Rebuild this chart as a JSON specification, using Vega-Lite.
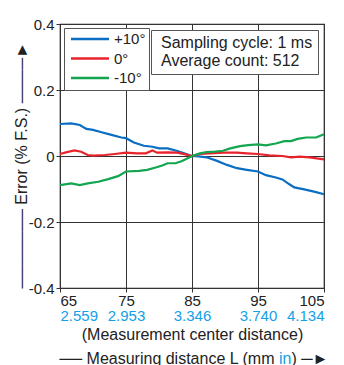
{
  "$schema": "https://vega.github.io/schema/vega-lite/v6.json",
  "width": 264,
  "height": 264,
  "autosize": {"type": "none"},
  "padding": {"left": 60, "top": 24, "right": 20, "bottom": 77},
  "background": "white",
  "config": {
    "font": "Liberation Sans",
    "view": {"stroke": "#1a1a1a", "strokeWidth": 1.2},
    "axis": {
      "labelFont": "Liberation Sans",
      "titleFont": "Liberation Sans",
      "labelFontSize": 15,
      "titleFontSize": 16,
      "titleFontWeight": "normal",
      "labelColor": "#222",
      "titleColor": "#222",
      "gridColor": "#333",
      "gridOpacity": 1,
      "gridWidth": 1,
      "tickColor": "#333",
      "domain": false
    },
    "legend": {
      "labelFont": "Liberation Sans",
      "labelColor": "#222"
    }
  },
  "datasets": {
    "curves": [
      {"d": 65, "e": 0.097, "s": "+10°"}, {"d": 66.7, "e": 0.099, "s": "+10°"}, {"d": 68, "e": 0.094, "s": "+10°"}, {"d": 69, "e": 0.082, "s": "+10°"}, {"d": 70, "e": 0.079, "s": "+10°"}, {"d": 71.3, "e": 0.072, "s": "+10°"}, {"d": 72.8, "e": 0.064, "s": "+10°"}, {"d": 74.3, "e": 0.056, "s": "+10°"}, {"d": 75, "e": 0.054, "s": "+10°"}, {"d": 76.2, "e": 0.041, "s": "+10°"}, {"d": 77.7, "e": 0.031, "s": "+10°"}, {"d": 79, "e": 0.028, "s": "+10°"}, {"d": 80, "e": 0.023, "s": "+10°"}, {"d": 81.3, "e": 0.023, "s": "+10°"}, {"d": 82.8, "e": 0.015, "s": "+10°"}, {"d": 83.8, "e": 0.008, "s": "+10°"}, {"d": 85, "e": 0.0, "s": "+10°"}, {"d": 86, "e": -0.001, "s": "+10°"}, {"d": 87.2, "e": -0.004, "s": "+10°"}, {"d": 88.7, "e": -0.014, "s": "+10°"}, {"d": 90.3, "e": -0.027, "s": "+10°"}, {"d": 91.8, "e": -0.037, "s": "+10°"}, {"d": 93.3, "e": -0.042, "s": "+10°"}, {"d": 95, "e": -0.047, "s": "+10°"}, {"d": 96.2, "e": -0.058, "s": "+10°"}, {"d": 97.7, "e": -0.065, "s": "+10°"}, {"d": 98.7, "e": -0.071, "s": "+10°"}, {"d": 99.7, "e": -0.085, "s": "+10°"}, {"d": 100.5, "e": -0.095, "s": "+10°"}, {"d": 102, "e": -0.101, "s": "+10°"}, {"d": 103.5, "e": -0.108, "s": "+10°"}, {"d": 105, "e": -0.116, "s": "+10°"},
      {"d": 65, "e": 0.006, "s": "0°"}, {"d": 65.9, "e": 0.011, "s": "0°"}, {"d": 67.2, "e": 0.017, "s": "0°"}, {"d": 68.2, "e": 0.013, "s": "0°"}, {"d": 69.2, "e": 0.003, "s": "0°"}, {"d": 70, "e": 0.001, "s": "0°"}, {"d": 71.8, "e": 0.003, "s": "0°"}, {"d": 73.3, "e": 0.006, "s": "0°"}, {"d": 75, "e": 0.01, "s": "0°"}, {"d": 76.7, "e": 0.008, "s": "0°"}, {"d": 78, "e": 0.008, "s": "0°"}, {"d": 79, "e": 0.017, "s": "0°"}, {"d": 79.7, "e": 0.01, "s": "0°"}, {"d": 81.3, "e": 0.011, "s": "0°"}, {"d": 82.8, "e": 0.01, "s": "0°"}, {"d": 84, "e": 0.005, "s": "0°"}, {"d": 85, "e": 0.0, "s": "0°"}, {"d": 86.2, "e": 0.006, "s": "0°"}, {"d": 87.7, "e": 0.008, "s": "0°"}, {"d": 89.7, "e": 0.01, "s": "0°"}, {"d": 91.8, "e": 0.01, "s": "0°"}, {"d": 93.3, "e": 0.008, "s": "0°"}, {"d": 95, "e": 0.006, "s": "0°"}, {"d": 96.7, "e": 0.002, "s": "0°"}, {"d": 98.7, "e": 0.0, "s": "0°"}, {"d": 100, "e": -0.004, "s": "0°"}, {"d": 101.3, "e": -0.002, "s": "0°"}, {"d": 102.8, "e": -0.004, "s": "0°"}, {"d": 105, "e": -0.01, "s": "0°"},
      {"d": 65, "e": -0.088, "s": "-10°"}, {"d": 66.7, "e": -0.083, "s": "-10°"}, {"d": 68, "e": -0.088, "s": "-10°"}, {"d": 69.2, "e": -0.083, "s": "-10°"}, {"d": 70.8, "e": -0.078, "s": "-10°"}, {"d": 72.3, "e": -0.07, "s": "-10°"}, {"d": 73.8, "e": -0.061, "s": "-10°"}, {"d": 75, "e": -0.047, "s": "-10°"}, {"d": 77, "e": -0.045, "s": "-10°"}, {"d": 78.2, "e": -0.042, "s": "-10°"}, {"d": 79.5, "e": -0.035, "s": "-10°"}, {"d": 80.5, "e": -0.029, "s": "-10°"}, {"d": 81.3, "e": -0.022, "s": "-10°"}, {"d": 82.5, "e": -0.022, "s": "-10°"}, {"d": 83.5, "e": -0.015, "s": "-10°"}, {"d": 84.8, "e": -0.002, "s": "-10°"}, {"d": 85, "e": 0.0, "s": "-10°"}, {"d": 86.2, "e": 0.008, "s": "-10°"}, {"d": 87.2, "e": 0.012, "s": "-10°"}, {"d": 88.5, "e": 0.013, "s": "-10°"}, {"d": 89.7, "e": 0.016, "s": "-10°"}, {"d": 90.8, "e": 0.023, "s": "-10°"}, {"d": 92.3, "e": 0.03, "s": "-10°"}, {"d": 93.5, "e": 0.033, "s": "-10°"}, {"d": 95, "e": 0.035, "s": "-10°"}, {"d": 96.2, "e": 0.032, "s": "-10°"}, {"d": 97.7, "e": 0.038, "s": "-10°"}, {"d": 99, "e": 0.045, "s": "-10°"}, {"d": 100, "e": 0.045, "s": "-10°"}, {"d": 101, "e": 0.052, "s": "-10°"}, {"d": 102.3, "e": 0.056, "s": "-10°"}, {"d": 103.8, "e": 0.056, "s": "-10°"}, {"d": 105, "e": 0.066, "s": "-10°"}
    ],
    "notes": [
      {"note": "Sampling cycle: 1 ms"},
      {"note": "Average count: 512"}
    ],
    "inch": [
      {"d": 65}, {"d": 75}, {"d": 85}, {"d": 95}, {"d": 105}
    ]
  },
  "layer": [
    {
      "data": {"name": "curves"},
      "mark": {"type": "line", "strokeWidth": 2.2},
      "encoding": {
        "x": {
          "field": "d", "type": "quantitative",
          "scale": {"domain": [65, 105], "nice": false, "zero": false},
          "axis": {
            "values": [65, 75, 85, 95, 105],
            "title": null,
            "grid": true,
            "ticks": true,
            "tickSize": 4,
            "labelPadding": 1.5
          }
        },
        "y": {
          "field": "e", "type": "quantitative",
          "scale": {"domain": [-0.4, 0.4], "nice": false, "zero": false},
          "axis": {
            "values": [-0.4, -0.2, 0, 0.2, 0.4],
            "labelExpr": "datum.value == 0 ? '0' : (datum.value < 0 ? '-' + format(-datum.value, '.1f') : format(datum.value, '.1f'))",
            "grid": true,
            "ticks": true,
            "tickSize": 4,
            "labelPadding": 2,
            "title": "─────── Error (% F.S.) ────►",
            "titleAnchor": "start",
            "titlePadding": -1
          }
        },
        "color": {
          "field": "s", "type": "nominal",
          "scale": {"domain": ["+10°", "0°", "-10°"], "range": ["#0a6ec2", "#e8232b", "#13a54f"]},
          "legend": {
            "title": null,
            "orient": "top-left",
            "offset": 4,
            "padding": 3.5,
            "rowPadding": 3.5,
            "symbolType": "M-0.667,0H5.667",
            "symbolSize": 144,
            "symbolStrokeWidth": 2.5,
            "labelOffset": 31.5,
            "labelFontSize": 15,
            "strokeColor": "#555",
            "fillColor": "white"
          }
        }
      }
    },
    {
      "data": {"name": "notes"},
      "mark": {"type": "point", "opacity": 0},
      "encoding": {
        "shape": {
          "field": "note", "type": "nominal",
          "sort": ["Sampling cycle: 1 ms", "Average count: 512"],
          "legend": {
            "title": null,
            "orient": "top-right",
            "offset": 6,
            "padding": 5,
            "rowPadding": 2,
            "symbolSize": 0.01,
            "symbolOpacity": 0,
            "symbolStrokeWidth": 0.01,
            "labelOffset": -11,
            "labelFontSize": 16,
            "strokeColor": "#555",
            "fillColor": "white"
          }
        }
      }
    },
    {
      "data": {"name": "inch"},
      "mark": {"type": "point", "opacity": 0},
      "encoding": {
        "x": {
          "field": "d", "type": "quantitative",
          "scale": {"domain": [65, 105], "nice": false, "zero": false},
          "axis": {
            "orient": "bottom",
            "values": [65, 75, 85, 95, 105],
            "labelExpr": "datum.value == 65 ? '2.559' : datum.value == 75 ? '2.953' : datum.value == 85 ? '3.346' : datum.value == 95 ? '3.740' : '4.134'",
            "labelColor": "#12a0e8",
            "grid": false,
            "ticks": false,
            "tickSize": 0,
            "labelPadding": 20.5,
            "title": "(Measurement center distance)",
            "titleX": 132,
            "titleY": 38.5,
            "titleAlign": "center"
          }
        }
      }
    },
    {
      "data": {"name": "inch"},
      "mark": {"type": "point", "opacity": 0},
      "encoding": {
        "x": {
          "field": "d", "type": "quantitative",
          "scale": {"domain": [65, 105], "nice": false, "zero": false},
          "axis": {
            "orient": "bottom", "labels": false, "ticks": false, "grid": false,
            "title": "── Measuring distance L (mm",
            "titleX": 214,
            "titleY": 62,
            "titleAlign": "right"
          }
        }
      }
    },
    {
      "data": {"name": "inch"},
      "mark": {"type": "point", "opacity": 0},
      "encoding": {
        "x": {
          "field": "d", "type": "quantitative",
          "scale": {"domain": [65, 105], "nice": false, "zero": false},
          "axis": {
            "orient": "bottom", "labels": false, "ticks": false, "grid": false,
            "title": "in",
            "titleColor": "#12a0e8",
            "titleX": 218.5,
            "titleY": 62,
            "titleAlign": "left"
          }
        }
      }
    },
    {
      "data": {"name": "inch"},
      "mark": {"type": "point", "opacity": 0},
      "encoding": {
        "x": {
          "field": "d", "type": "quantitative",
          "scale": {"domain": [65, 105], "nice": false, "zero": false},
          "axis": {
            "orient": "bottom", "labels": false, "ticks": false, "grid": false,
            "title": ") ─►",
            "titleX": 231,
            "titleY": 62,
            "titleAlign": "left"
          }
        }
      }
    }
  ],
  "resolve": {"axis": {"x": "independent"}}
}
